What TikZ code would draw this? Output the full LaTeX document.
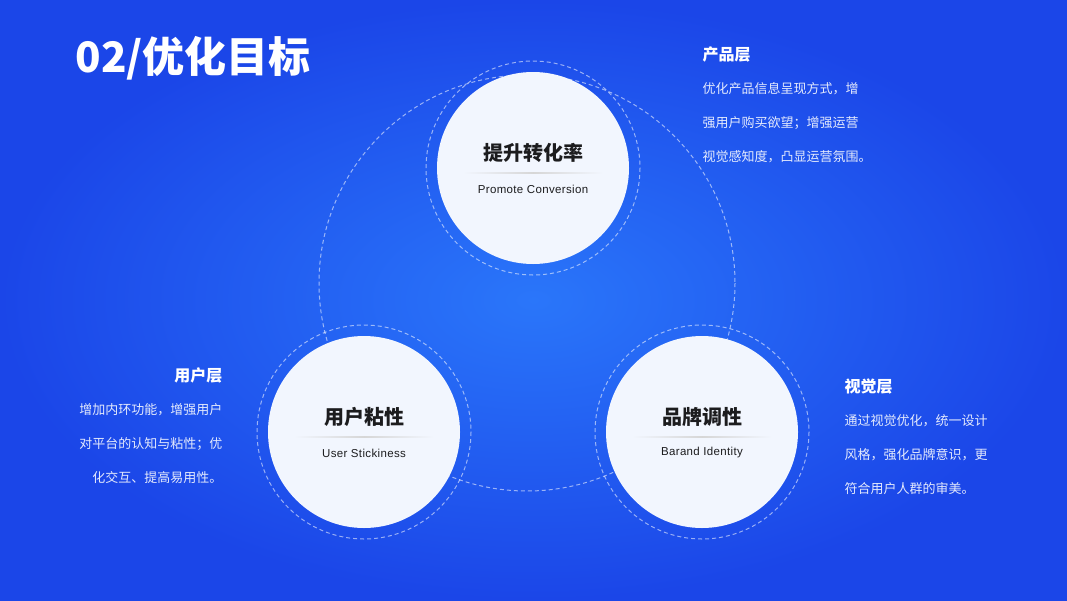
\documentclass[tikz,border=0pt]{standalone}
\usepackage{fontspec}
\setmainfont{Noto Sans CJK SC}
\newfontfamily\enfont{Liberation Sans}[LetterSpace=3]
\usetikzlibrary{shadings}
\definecolor{bgout}{RGB}{27,70,232}
\definecolor{bgin}{RGB}{42,118,250}
\definecolor{discfill}{RGB}{242,246,254}
\definecolor{darktext}{RGB}{28,28,30}
\tikzset{
  disc/.style={circle, fill=discfill, minimum size=192pt, inner sep=0pt},
  ring/.style={draw=white, draw opacity=0.55, dash pattern=on 4pt off 3pt, line width=1pt},
  cntitle/.style={font=\fontsize{20}{22}\selectfont\bfseries, text=darktext},
  entitle/.style={font=\fontsize{11.5}{13}\selectfont\enfont, text=darktext},
  layerhead/.style={font=\fontsize{16}{18}\selectfont\bfseries, text=white},
  bodyline/.style={font=\fontsize{13}{15}\selectfont, text=white, text opacity=0.88},
}
\begin{document}
\begin{tikzpicture}[x=1pt,y=-1pt]
\useasboundingbox (0,0) rectangle (1067,600);
\shade[inner color=bgin, outer color=bgout] (0,0) rectangle (1067,600);

% big dashed circle
\draw[ring] (527,283) circle (208);

% dashed rings
\draw[ring] (533,168) circle (107);
\draw[ring] (364,432) circle (107);
\draw[ring] (702,432) circle (107);

% discs
\node[disc] (top) at (533,168) {};
\node[disc] (left) at (364,432) {};
\node[disc] (right) at (702,432) {};

% separators
\foreach \n/\cx/\cy in {s1/533/173, s2/364/437, s3/702/437}{
  \shade[left color=discfill, right color=discfill, middle color=black!16] (\cx-70,\cy-0.7) rectangle (\cx+70,\cy+0.7);
}

% circle texts
\node[cntitle] (t1) at (533,153) {提升转化率};
\node[entitle] (e1) at (533,189) {Promote Conversion};
\node[cntitle] (t2) at (364,417) {用户粘性};
\node[entitle] (e2) at (364,453) {User Stickiness};
\node[cntitle] (t3) at (702,417) {品牌调性};
\node[entitle] (e3) at (702,453) {Barand Identity};

% title
\node[anchor=west, font=\fontsize{42}{46}\selectfont\bfseries, text=white] (title) at (72,58) {02/优化目标};

% product layer
\node[layerhead, anchor=west] (ph) at (699,54) {产品层};
\node[bodyline, anchor=west] (p1) at (699,89) {优化产品信息呈现方式，增};
\node[bodyline, anchor=west] (p2) at (699,123) {强用户购买欲望；增强运营};
\node[bodyline, anchor=west] (p3) at (699,157) {视觉感知度，凸显运营氛围。};

% user layer
\node[layerhead, anchor=east] (uh) at (226,375) {用户层};
\node[bodyline, anchor=east] (u1) at (226,410) {增加内环功能，增强用户};
\node[bodyline, anchor=east] (u2) at (226,444) {对平台的认知与粘性；优};
\node[bodyline, anchor=east] (u3) at (226,478) {化交互、提高易用性。};

% visual layer
\node[layerhead, anchor=west] (vh) at (841,386) {视觉层};
\node[bodyline, anchor=west] (v1) at (841,421) {通过视觉优化，统一设计};
\node[bodyline, anchor=west] (v2) at (841,455) {风格，强化品牌意识，更};
\node[bodyline, anchor=west] (v3) at (841,489) {符合用户人群的审美。};
\end{tikzpicture}
\end{document}
